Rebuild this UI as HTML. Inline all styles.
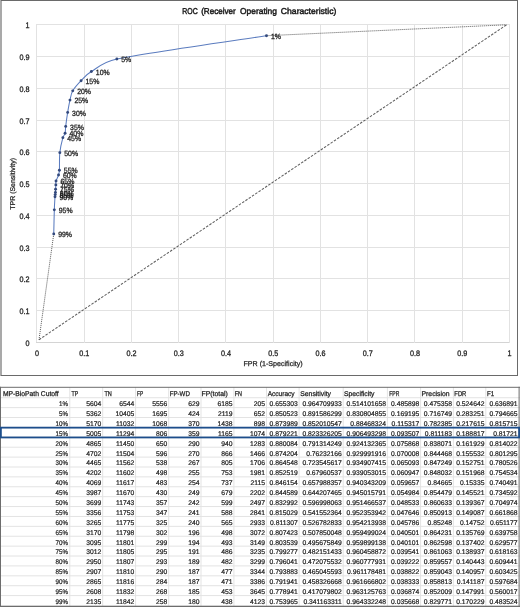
<!DOCTYPE html>
<html><head><meta charset="utf-8"><style>
html,body{margin:0;padding:0;background:#fff;width:520px;height:607px;overflow:hidden}
svg{display:block;font-family:"Liberation Sans",sans-serif;will-change:transform;text-rendering:geometricPrecision}
</style></head><body>
<svg width="520" height="607" viewBox="0 0 520 607">
<rect x="0" y="0" width="520" height="607" fill="#fff"/>
<line x1="36.5" y1="24.0" x2="36.5" y2="343.0" stroke="#e2e2e2" stroke-width="1"/>
<line x1="36.0" y1="342.5" x2="510.0" y2="342.5" stroke="#d4d4d4" stroke-width="1"/>
<line x1="84.5" y1="24.0" x2="84.5" y2="343.0" stroke="#e2e2e2" stroke-width="1"/>
<line x1="36.0" y1="310.5" x2="510.0" y2="310.5" stroke="#e2e2e2" stroke-width="1"/>
<line x1="131.5" y1="24.0" x2="131.5" y2="343.0" stroke="#e2e2e2" stroke-width="1"/>
<line x1="36.0" y1="278.5" x2="510.0" y2="278.5" stroke="#e2e2e2" stroke-width="1"/>
<line x1="178.5" y1="24.0" x2="178.5" y2="343.0" stroke="#e2e2e2" stroke-width="1"/>
<line x1="36.0" y1="247.5" x2="510.0" y2="247.5" stroke="#e2e2e2" stroke-width="1"/>
<line x1="225.5" y1="24.0" x2="225.5" y2="343.0" stroke="#e2e2e2" stroke-width="1"/>
<line x1="36.0" y1="215.5" x2="510.0" y2="215.5" stroke="#e2e2e2" stroke-width="1"/>
<line x1="273.5" y1="24.0" x2="273.5" y2="343.0" stroke="#e2e2e2" stroke-width="1"/>
<line x1="36.0" y1="183.5" x2="510.0" y2="183.5" stroke="#e2e2e2" stroke-width="1"/>
<line x1="320.5" y1="24.0" x2="320.5" y2="343.0" stroke="#e2e2e2" stroke-width="1"/>
<line x1="36.0" y1="151.5" x2="510.0" y2="151.5" stroke="#e2e2e2" stroke-width="1"/>
<line x1="367.5" y1="24.0" x2="367.5" y2="343.0" stroke="#e2e2e2" stroke-width="1"/>
<line x1="36.0" y1="120.5" x2="510.0" y2="120.5" stroke="#e2e2e2" stroke-width="1"/>
<line x1="414.5" y1="24.0" x2="414.5" y2="343.0" stroke="#e2e2e2" stroke-width="1"/>
<line x1="36.0" y1="88.5" x2="510.0" y2="88.5" stroke="#e2e2e2" stroke-width="1"/>
<line x1="462.5" y1="24.0" x2="462.5" y2="343.0" stroke="#e2e2e2" stroke-width="1"/>
<line x1="36.0" y1="56.5" x2="510.0" y2="56.5" stroke="#e2e2e2" stroke-width="1"/>
<line x1="509.5" y1="24.0" x2="509.5" y2="343.0" stroke="#e2e2e2" stroke-width="1"/>
<line x1="36.0" y1="24.5" x2="510.0" y2="24.5" stroke="#e2e2e2" stroke-width="1"/>
<line x1="39.0" y1="339.7" x2="506.6" y2="24.8" stroke="#606060" stroke-width="1.05" stroke-dasharray="2.55 1.4"/>
<line x1="53.75" y1="234.01" x2="39.0" y2="339.7" stroke="#505050" stroke-width="0.95" stroke-dasharray="1 1"/>
<line x1="266.49" y1="35.72" x2="506.6" y2="24.8" stroke="#505050" stroke-width="0.95" stroke-dasharray="1 1"/>
<path d="M266.49,35.72 C241.55,39.60 146.03,53.00 116.84,58.98 C102.93,61.82 97.35,67.94 91.39,71.56 C85.50,75.13 84.19,77.47 81.08,80.68 C77.98,83.90 74.60,87.63 72.75,90.86 C70.90,94.10 70.83,96.49 69.98,100.08 C69.13,103.67 68.37,108.03 67.66,112.41 C66.94,116.80 66.13,122.91 65.70,126.39 C65.28,129.81 65.56,131.38 65.09,133.26 C64.62,135.14 63.52,135.27 62.88,137.64 C62.00,140.87 60.41,147.21 59.83,152.65 C59.25,158.10 59.63,166.56 59.41,170.29 C59.27,172.67 59.10,173.20 58.53,174.98 C57.97,176.77 56.48,179.36 56.04,181.00 C55.59,182.65 55.92,183.51 55.85,184.88 C55.77,186.24 55.65,187.93 55.58,189.18 C55.51,190.43 55.49,191.47 55.43,192.38 C55.38,193.29 55.31,193.89 55.24,194.62 C55.17,195.34 55.08,195.68 55.01,196.75 C54.86,199.29 54.53,203.66 54.32,209.87 C54.11,216.08 53.85,229.99 53.75,234.01" fill="none" stroke="#5b7cbf" stroke-width="1.05" stroke-linejoin="round"/>
<circle cx="266.49" cy="35.72" r="1.45" fill="#33497c"/>
<circle cx="116.84" cy="58.98" r="1.45" fill="#33497c"/>
<circle cx="91.39" cy="71.56" r="1.45" fill="#33497c"/>
<circle cx="81.08" cy="80.68" r="1.45" fill="#33497c"/>
<circle cx="72.75" cy="90.86" r="1.45" fill="#33497c"/>
<circle cx="69.98" cy="100.08" r="1.45" fill="#33497c"/>
<circle cx="67.66" cy="112.41" r="1.45" fill="#33497c"/>
<circle cx="65.70" cy="126.39" r="1.45" fill="#33497c"/>
<circle cx="65.09" cy="133.26" r="1.45" fill="#33497c"/>
<circle cx="62.88" cy="137.64" r="1.45" fill="#33497c"/>
<circle cx="59.83" cy="152.65" r="1.45" fill="#33497c"/>
<circle cx="59.41" cy="170.29" r="1.45" fill="#33497c"/>
<circle cx="58.53" cy="174.98" r="1.45" fill="#33497c"/>
<circle cx="56.04" cy="181.00" r="1.45" fill="#33497c"/>
<circle cx="55.85" cy="184.88" r="1.45" fill="#33497c"/>
<circle cx="55.58" cy="189.18" r="1.45" fill="#33497c"/>
<circle cx="55.43" cy="192.38" r="1.45" fill="#33497c"/>
<circle cx="55.24" cy="194.62" r="1.45" fill="#33497c"/>
<circle cx="55.01" cy="196.75" r="1.45" fill="#33497c"/>
<circle cx="54.32" cy="209.87" r="1.45" fill="#33497c"/>
<circle cx="53.75" cy="234.01" r="1.45" fill="#33497c"/>
<text transform="translate(270.89,38.92) scale(0.91,1)" font-size="7.6" fill="#1f1f1f" text-anchor="start" stroke="#1f1f1f" stroke-width="0.3">1%</text>
<text transform="translate(121.24,62.18) scale(0.91,1)" font-size="7.6" fill="#1f1f1f" text-anchor="start" stroke="#1f1f1f" stroke-width="0.3">5%</text>
<text transform="translate(95.79,74.76) scale(0.91,1)" font-size="7.6" fill="#1f1f1f" text-anchor="start" stroke="#1f1f1f" stroke-width="0.3">10%</text>
<text transform="translate(85.48,83.88) scale(0.91,1)" font-size="7.6" fill="#1f1f1f" text-anchor="start" stroke="#1f1f1f" stroke-width="0.3">15%</text>
<text transform="translate(77.15,94.06) scale(0.91,1)" font-size="7.6" fill="#1f1f1f" text-anchor="start" stroke="#1f1f1f" stroke-width="0.3">20%</text>
<text transform="translate(74.38,103.28) scale(0.91,1)" font-size="7.6" fill="#1f1f1f" text-anchor="start" stroke="#1f1f1f" stroke-width="0.3">25%</text>
<text transform="translate(72.06,115.61) scale(0.91,1)" font-size="7.6" fill="#1f1f1f" text-anchor="start" stroke="#1f1f1f" stroke-width="0.3">30%</text>
<text transform="translate(70.10,129.59) scale(0.91,1)" font-size="7.6" fill="#1f1f1f" text-anchor="start" stroke="#1f1f1f" stroke-width="0.3">35%</text>
<text transform="translate(69.49,136.46) scale(0.91,1)" font-size="7.6" fill="#1f1f1f" text-anchor="start" stroke="#1f1f1f" stroke-width="0.3">40%</text>
<text transform="translate(67.28,140.84) scale(0.91,1)" font-size="7.6" fill="#1f1f1f" text-anchor="start" stroke="#1f1f1f" stroke-width="0.3">45%</text>
<text transform="translate(64.23,155.85) scale(0.91,1)" font-size="7.6" fill="#1f1f1f" text-anchor="start" stroke="#1f1f1f" stroke-width="0.3">50%</text>
<text transform="translate(63.81,173.49) scale(0.91,1)" font-size="7.6" fill="#1f1f1f" text-anchor="start" stroke="#1f1f1f" stroke-width="0.3">55%</text>
<text transform="translate(62.93,178.18) scale(0.91,1)" font-size="7.6" fill="#1f1f1f" text-anchor="start" stroke="#1f1f1f" stroke-width="0.3">60%</text>
<text transform="translate(60.44,184.20) scale(0.91,1)" font-size="7.6" fill="#1f1f1f" text-anchor="start" stroke="#1f1f1f" stroke-width="0.3">65%</text>
<text transform="translate(60.25,188.08) scale(0.91,1)" font-size="7.6" fill="#1f1f1f" text-anchor="start" stroke="#1f1f1f" stroke-width="0.3">70%</text>
<text transform="translate(59.98,192.38) scale(0.91,1)" font-size="7.6" fill="#1f1f1f" text-anchor="start" stroke="#1f1f1f" stroke-width="0.3">75%</text>
<text transform="translate(59.83,195.58) scale(0.91,1)" font-size="7.6" fill="#1f1f1f" text-anchor="start" stroke="#1f1f1f" stroke-width="0.3">80%</text>
<text transform="translate(59.64,197.82) scale(0.91,1)" font-size="7.6" fill="#1f1f1f" text-anchor="start" stroke="#1f1f1f" stroke-width="0.3">85%</text>
<text transform="translate(59.41,199.95) scale(0.91,1)" font-size="7.6" fill="#1f1f1f" text-anchor="start" stroke="#1f1f1f" stroke-width="0.3">90%</text>
<text transform="translate(58.72,213.07) scale(0.91,1)" font-size="7.6" fill="#1f1f1f" text-anchor="start" stroke="#1f1f1f" stroke-width="0.3">95%</text>
<text transform="translate(58.15,237.21) scale(0.91,1)" font-size="7.6" fill="#1f1f1f" text-anchor="start" stroke="#1f1f1f" stroke-width="0.3">99%</text>
<text transform="translate(29.50,345.60) scale(0.9,1)" font-size="8" fill="#1f1f1f" text-anchor="end" stroke="#1f1f1f" stroke-width="0.3">0</text>
<text transform="translate(36.90,355.70) scale(0.9,1)" font-size="8" fill="#1f1f1f" text-anchor="middle" stroke="#1f1f1f" stroke-width="0.3">0</text>
<text transform="translate(29.50,313.60) scale(0.9,1)" font-size="8" fill="#1f1f1f" text-anchor="end" stroke="#1f1f1f" stroke-width="0.3">0.1</text>
<text transform="translate(84.15,355.70) scale(0.9,1)" font-size="8" fill="#1f1f1f" text-anchor="middle" stroke="#1f1f1f" stroke-width="0.3">0.1</text>
<text transform="translate(29.50,281.60) scale(0.9,1)" font-size="8" fill="#1f1f1f" text-anchor="end" stroke="#1f1f1f" stroke-width="0.3">0.2</text>
<text transform="translate(131.40,355.70) scale(0.9,1)" font-size="8" fill="#1f1f1f" text-anchor="middle" stroke="#1f1f1f" stroke-width="0.3">0.2</text>
<text transform="translate(29.50,250.60) scale(0.9,1)" font-size="8" fill="#1f1f1f" text-anchor="end" stroke="#1f1f1f" stroke-width="0.3">0.3</text>
<text transform="translate(178.65,355.70) scale(0.9,1)" font-size="8" fill="#1f1f1f" text-anchor="middle" stroke="#1f1f1f" stroke-width="0.3">0.3</text>
<text transform="translate(29.50,218.60) scale(0.9,1)" font-size="8" fill="#1f1f1f" text-anchor="end" stroke="#1f1f1f" stroke-width="0.3">0.4</text>
<text transform="translate(225.90,355.70) scale(0.9,1)" font-size="8" fill="#1f1f1f" text-anchor="middle" stroke="#1f1f1f" stroke-width="0.3">0.4</text>
<text transform="translate(29.50,186.60) scale(0.9,1)" font-size="8" fill="#1f1f1f" text-anchor="end" stroke="#1f1f1f" stroke-width="0.3">0.5</text>
<text transform="translate(273.15,355.70) scale(0.9,1)" font-size="8" fill="#1f1f1f" text-anchor="middle" stroke="#1f1f1f" stroke-width="0.3">0.5</text>
<text transform="translate(29.50,154.60) scale(0.9,1)" font-size="8" fill="#1f1f1f" text-anchor="end" stroke="#1f1f1f" stroke-width="0.3">0.6</text>
<text transform="translate(320.40,355.70) scale(0.9,1)" font-size="8" fill="#1f1f1f" text-anchor="middle" stroke="#1f1f1f" stroke-width="0.3">0.6</text>
<text transform="translate(29.50,123.60) scale(0.9,1)" font-size="8" fill="#1f1f1f" text-anchor="end" stroke="#1f1f1f" stroke-width="0.3">0.7</text>
<text transform="translate(367.65,355.70) scale(0.9,1)" font-size="8" fill="#1f1f1f" text-anchor="middle" stroke="#1f1f1f" stroke-width="0.3">0.7</text>
<text transform="translate(29.50,91.60) scale(0.9,1)" font-size="8" fill="#1f1f1f" text-anchor="end" stroke="#1f1f1f" stroke-width="0.3">0.8</text>
<text transform="translate(414.90,355.70) scale(0.9,1)" font-size="8" fill="#1f1f1f" text-anchor="middle" stroke="#1f1f1f" stroke-width="0.3">0.8</text>
<text transform="translate(29.50,59.60) scale(0.9,1)" font-size="8" fill="#1f1f1f" text-anchor="end" stroke="#1f1f1f" stroke-width="0.3">0.9</text>
<text transform="translate(462.15,355.70) scale(0.9,1)" font-size="8" fill="#1f1f1f" text-anchor="middle" stroke="#1f1f1f" stroke-width="0.3">0.9</text>
<text transform="translate(29.50,27.60) scale(0.9,1)" font-size="8" fill="#1f1f1f" text-anchor="end" stroke="#1f1f1f" stroke-width="0.3">1</text>
<text transform="translate(509.40,355.70) scale(0.9,1)" font-size="8" fill="#1f1f1f" text-anchor="middle" stroke="#1f1f1f" stroke-width="0.3">1</text>
<text x="273.10" y="366.40" font-size="7.1" fill="#262626" text-anchor="middle" stroke="#262626" stroke-width="0.25">FPR (1-Specificity)</text>
<text transform="translate(14.7,183.8) rotate(-90)" font-size="6.95" fill="#262626" stroke="#262626" stroke-width="0.25" text-anchor="middle">TPR (Sensitivity)</text>
<text transform="translate(182.25,14.10) scale(0.815,1)" font-size="8.5" fill="#1a1a1a" text-anchor="start" stroke="#1a1a1a" stroke-width="0.45">ROC</text>
<text transform="translate(201.15,14.10) scale(0.949,1)" font-size="8.5" fill="#1a1a1a" text-anchor="start" stroke="#1a1a1a" stroke-width="0.45">(Receiver</text>
<text transform="translate(240.05,14.10) scale(0.988,1)" font-size="8.5" fill="#1a1a1a" text-anchor="start" stroke="#1a1a1a" stroke-width="0.45">Operating</text>
<text transform="translate(280.85,14.10) scale(1.013,1)" font-size="8.5" fill="#1a1a1a" text-anchor="start" stroke="#1a1a1a" stroke-width="0.45">Characteristic)</text>
<rect x="0" y="0" width="2" height="376" fill="#a9a9a9"/>
<rect x="1" y="0" width="517" height="1" fill="#6a6a6a"/>
<rect x="517" y="0" width="1" height="376" fill="#6a6a6a"/>
<rect x="1" y="375" width="517" height="1" fill="#6a6a6a"/>
<line x1="0" y1="397.74" x2="520" y2="397.74" stroke="#e3e3e3" stroke-width="1"/>
<line x1="0" y1="407.64" x2="520" y2="407.64" stroke="#e3e3e3" stroke-width="1"/>
<line x1="0" y1="417.53" x2="520" y2="417.53" stroke="#e3e3e3" stroke-width="1"/>
<line x1="0" y1="427.42" x2="520" y2="427.42" stroke="#e3e3e3" stroke-width="1"/>
<line x1="0" y1="437.32" x2="520" y2="437.32" stroke="#e3e3e3" stroke-width="1"/>
<line x1="0" y1="447.21" x2="520" y2="447.21" stroke="#e3e3e3" stroke-width="1"/>
<line x1="0" y1="457.10" x2="520" y2="457.10" stroke="#e3e3e3" stroke-width="1"/>
<line x1="0" y1="466.99" x2="520" y2="466.99" stroke="#e3e3e3" stroke-width="1"/>
<line x1="0" y1="476.89" x2="520" y2="476.89" stroke="#e3e3e3" stroke-width="1"/>
<line x1="0" y1="486.78" x2="520" y2="486.78" stroke="#e3e3e3" stroke-width="1"/>
<line x1="0" y1="496.67" x2="520" y2="496.67" stroke="#e3e3e3" stroke-width="1"/>
<line x1="0" y1="506.57" x2="520" y2="506.57" stroke="#e3e3e3" stroke-width="1"/>
<line x1="0" y1="516.46" x2="520" y2="516.46" stroke="#e3e3e3" stroke-width="1"/>
<line x1="0" y1="526.35" x2="520" y2="526.35" stroke="#e3e3e3" stroke-width="1"/>
<line x1="0" y1="536.25" x2="520" y2="536.25" stroke="#e3e3e3" stroke-width="1"/>
<line x1="0" y1="546.14" x2="520" y2="546.14" stroke="#e3e3e3" stroke-width="1"/>
<line x1="0" y1="556.03" x2="520" y2="556.03" stroke="#e3e3e3" stroke-width="1"/>
<line x1="0" y1="565.92" x2="520" y2="565.92" stroke="#e3e3e3" stroke-width="1"/>
<line x1="0" y1="575.82" x2="520" y2="575.82" stroke="#e3e3e3" stroke-width="1"/>
<line x1="0" y1="585.71" x2="520" y2="585.71" stroke="#e3e3e3" stroke-width="1"/>
<line x1="0" y1="595.60" x2="520" y2="595.60" stroke="#e3e3e3" stroke-width="1"/>
<line x1="69.80" y1="387" x2="69.80" y2="607" stroke="#e3e3e3" stroke-width="1"/>
<line x1="102.70" y1="387" x2="102.70" y2="607" stroke="#e3e3e3" stroke-width="1"/>
<line x1="135.60" y1="387" x2="135.60" y2="607" stroke="#e3e3e3" stroke-width="1"/>
<line x1="168.70" y1="387" x2="168.70" y2="607" stroke="#e3e3e3" stroke-width="1"/>
<line x1="201.00" y1="387" x2="201.00" y2="607" stroke="#e3e3e3" stroke-width="1"/>
<line x1="233.90" y1="387" x2="233.90" y2="607" stroke="#e3e3e3" stroke-width="1"/>
<line x1="266.50" y1="387" x2="266.50" y2="607" stroke="#e3e3e3" stroke-width="1"/>
<line x1="299.10" y1="387" x2="299.10" y2="607" stroke="#e3e3e3" stroke-width="1"/>
<line x1="343.20" y1="387" x2="343.20" y2="607" stroke="#e3e3e3" stroke-width="1"/>
<line x1="387.40" y1="387" x2="387.40" y2="607" stroke="#e3e3e3" stroke-width="1"/>
<line x1="420.60" y1="387" x2="420.60" y2="607" stroke="#e3e3e3" stroke-width="1"/>
<line x1="453.40" y1="387" x2="453.40" y2="607" stroke="#e3e3e3" stroke-width="1"/>
<line x1="485.80" y1="387" x2="485.80" y2="607" stroke="#e3e3e3" stroke-width="1"/>
<text transform="translate(2.95,396.04) scale(0.973,1)" font-size="6.95" fill="#1a1a1a" text-anchor="start" stroke="#1a1a1a" stroke-width="0.25">MP-BioPath Cutoff</text>
<text transform="translate(71.55,396.04) scale(0.755,1)" font-size="6.95" fill="#1a1a1a" text-anchor="start" stroke="#1a1a1a" stroke-width="0.25">TP</text>
<text transform="translate(104.45,396.04) scale(0.799,1)" font-size="6.95" fill="#1a1a1a" text-anchor="start" stroke="#1a1a1a" stroke-width="0.25">TN</text>
<text transform="translate(137.05,396.04) scale(0.698,1)" font-size="6.95" fill="#1a1a1a" text-anchor="start" stroke="#1a1a1a" stroke-width="0.25">FP</text>
<text transform="translate(169.75,396.04) scale(0.883,1)" font-size="6.95" fill="#1a1a1a" text-anchor="start" stroke="#1a1a1a" stroke-width="0.25">FP-WD</text>
<text transform="translate(201.45,396.04) scale(0.991,1)" font-size="6.95" fill="#1a1a1a" text-anchor="start" stroke="#1a1a1a" stroke-width="0.25">FP(total)</text>
<text transform="translate(234.65,396.04) scale(0.778,1)" font-size="6.95" fill="#1a1a1a" text-anchor="start" stroke="#1a1a1a" stroke-width="0.25">FN</text>
<text transform="translate(267.65,396.04) scale(0.945,1)" font-size="6.95" fill="#1a1a1a" text-anchor="start" stroke="#1a1a1a" stroke-width="0.25">Accuracy</text>
<text transform="translate(300.25,396.04) scale(0.984,1)" font-size="6.95" fill="#1a1a1a" text-anchor="start" stroke="#1a1a1a" stroke-width="0.25">Sensitivity</text>
<text transform="translate(343.95,396.04) scale(0.978,1)" font-size="6.95" fill="#1a1a1a" text-anchor="start" stroke="#1a1a1a" stroke-width="0.25">Specificity</text>
<text transform="translate(389.25,396.04) scale(0.727,1)" font-size="6.95" fill="#1a1a1a" text-anchor="start" stroke="#1a1a1a" stroke-width="0.25">FPR</text>
<text transform="translate(421.55,396.04) scale(0.983,1)" font-size="6.95" fill="#1a1a1a" text-anchor="start" stroke="#1a1a1a" stroke-width="0.25">Precision</text>
<text transform="translate(454.35,396.04) scale(0.84,1)" font-size="6.95" fill="#1a1a1a" text-anchor="start" stroke="#1a1a1a" stroke-width="0.25">FDR</text>
<text transform="translate(486.95,396.04) scale(0.875,1)" font-size="6.95" fill="#1a1a1a" text-anchor="start" stroke="#1a1a1a" stroke-width="0.25">F1</text>
<text transform="translate(68.00,406.04) scale(0.92,1)" font-size="6.75" fill="#1a1a1a" text-anchor="end" stroke="#1a1a1a" stroke-width="0.2">1%</text>
<text x="101.30" y="406.04" font-size="6.75" fill="#1a1a1a" text-anchor="end" stroke="#1a1a1a" stroke-width="0.2">5604</text>
<text x="134.20" y="406.04" font-size="6.75" fill="#1a1a1a" text-anchor="end" stroke="#1a1a1a" stroke-width="0.2">6544</text>
<text x="167.30" y="406.04" font-size="6.75" fill="#1a1a1a" text-anchor="end" stroke="#1a1a1a" stroke-width="0.2">5556</text>
<text x="199.60" y="406.04" font-size="6.75" fill="#1a1a1a" text-anchor="end" stroke="#1a1a1a" stroke-width="0.2">629</text>
<text x="232.50" y="406.04" font-size="6.75" fill="#1a1a1a" text-anchor="end" stroke="#1a1a1a" stroke-width="0.2">6185</text>
<text x="265.10" y="406.04" font-size="6.75" fill="#1a1a1a" text-anchor="end" stroke="#1a1a1a" stroke-width="0.2">205</text>
<text x="297.70" y="406.04" font-size="6.75" fill="#1a1a1a" text-anchor="end" stroke="#1a1a1a" stroke-width="0.2">0.655303</text>
<text x="341.80" y="406.04" font-size="6.75" fill="#1a1a1a" text-anchor="end" stroke="#1a1a1a" stroke-width="0.2">0.964709933</text>
<text x="386.00" y="406.04" font-size="6.75" fill="#1a1a1a" text-anchor="end" stroke="#1a1a1a" stroke-width="0.2">0.514101658</text>
<text x="419.20" y="406.04" font-size="6.75" fill="#1a1a1a" text-anchor="end" stroke="#1a1a1a" stroke-width="0.2">0.485898</text>
<text x="452.00" y="406.04" font-size="6.75" fill="#1a1a1a" text-anchor="end" stroke="#1a1a1a" stroke-width="0.2">0.475358</text>
<text x="484.40" y="406.04" font-size="6.75" fill="#1a1a1a" text-anchor="end" stroke="#1a1a1a" stroke-width="0.2">0.524642</text>
<text x="517.60" y="406.04" font-size="6.75" fill="#1a1a1a" text-anchor="end" stroke="#1a1a1a" stroke-width="0.2">0.636891</text>
<text transform="translate(68.00,415.93) scale(0.92,1)" font-size="6.75" fill="#1a1a1a" text-anchor="end" stroke="#1a1a1a" stroke-width="0.2">5%</text>
<text x="101.30" y="415.93" font-size="6.75" fill="#1a1a1a" text-anchor="end" stroke="#1a1a1a" stroke-width="0.2">5362</text>
<text x="134.20" y="415.93" font-size="6.75" fill="#1a1a1a" text-anchor="end" stroke="#1a1a1a" stroke-width="0.2">10405</text>
<text x="167.30" y="415.93" font-size="6.75" fill="#1a1a1a" text-anchor="end" stroke="#1a1a1a" stroke-width="0.2">1695</text>
<text x="199.60" y="415.93" font-size="6.75" fill="#1a1a1a" text-anchor="end" stroke="#1a1a1a" stroke-width="0.2">424</text>
<text x="232.50" y="415.93" font-size="6.75" fill="#1a1a1a" text-anchor="end" stroke="#1a1a1a" stroke-width="0.2">2119</text>
<text x="265.10" y="415.93" font-size="6.75" fill="#1a1a1a" text-anchor="end" stroke="#1a1a1a" stroke-width="0.2">652</text>
<text x="297.70" y="415.93" font-size="6.75" fill="#1a1a1a" text-anchor="end" stroke="#1a1a1a" stroke-width="0.2">0.850523</text>
<text x="341.80" y="415.93" font-size="6.75" fill="#1a1a1a" text-anchor="end" stroke="#1a1a1a" stroke-width="0.2">0.891586299</text>
<text x="386.00" y="415.93" font-size="6.75" fill="#1a1a1a" text-anchor="end" stroke="#1a1a1a" stroke-width="0.2">0.830804855</text>
<text x="419.20" y="415.93" font-size="6.75" fill="#1a1a1a" text-anchor="end" stroke="#1a1a1a" stroke-width="0.2">0.169195</text>
<text x="452.00" y="415.93" font-size="6.75" fill="#1a1a1a" text-anchor="end" stroke="#1a1a1a" stroke-width="0.2">0.716749</text>
<text x="484.40" y="415.93" font-size="6.75" fill="#1a1a1a" text-anchor="end" stroke="#1a1a1a" stroke-width="0.2">0.283251</text>
<text x="517.60" y="415.93" font-size="6.75" fill="#1a1a1a" text-anchor="end" stroke="#1a1a1a" stroke-width="0.2">0.794665</text>
<text transform="translate(68.00,425.82) scale(0.92,1)" font-size="6.75" fill="#1a1a1a" text-anchor="end" stroke="#1a1a1a" stroke-width="0.2">10%</text>
<text x="101.30" y="425.82" font-size="6.75" fill="#1a1a1a" text-anchor="end" stroke="#1a1a1a" stroke-width="0.2">5170</text>
<text x="134.20" y="425.82" font-size="6.75" fill="#1a1a1a" text-anchor="end" stroke="#1a1a1a" stroke-width="0.2">11032</text>
<text x="167.30" y="425.82" font-size="6.75" fill="#1a1a1a" text-anchor="end" stroke="#1a1a1a" stroke-width="0.2">1068</text>
<text x="199.60" y="425.82" font-size="6.75" fill="#1a1a1a" text-anchor="end" stroke="#1a1a1a" stroke-width="0.2">370</text>
<text x="232.50" y="425.82" font-size="6.75" fill="#1a1a1a" text-anchor="end" stroke="#1a1a1a" stroke-width="0.2">1438</text>
<text x="265.10" y="425.82" font-size="6.75" fill="#1a1a1a" text-anchor="end" stroke="#1a1a1a" stroke-width="0.2">898</text>
<text x="297.70" y="425.82" font-size="6.75" fill="#1a1a1a" text-anchor="end" stroke="#1a1a1a" stroke-width="0.2">0.873989</text>
<text x="341.80" y="425.82" font-size="6.75" fill="#1a1a1a" text-anchor="end" stroke="#1a1a1a" stroke-width="0.2">0.852010547</text>
<text x="386.00" y="425.82" font-size="6.75" fill="#1a1a1a" text-anchor="end" stroke="#1a1a1a" stroke-width="0.2">0.88468324</text>
<text x="419.20" y="425.82" font-size="6.75" fill="#1a1a1a" text-anchor="end" stroke="#1a1a1a" stroke-width="0.2">0.115317</text>
<text x="452.00" y="425.82" font-size="6.75" fill="#1a1a1a" text-anchor="end" stroke="#1a1a1a" stroke-width="0.2">0.782385</text>
<text x="484.40" y="425.82" font-size="6.75" fill="#1a1a1a" text-anchor="end" stroke="#1a1a1a" stroke-width="0.2">0.217615</text>
<text x="517.60" y="425.82" font-size="6.75" fill="#1a1a1a" text-anchor="end" stroke="#1a1a1a" stroke-width="0.2">0.815715</text>
<text transform="translate(68.00,435.72) scale(0.92,1)" font-size="6.75" fill="#1a1a1a" text-anchor="end" stroke="#1a1a1a" stroke-width="0.2">15%</text>
<text x="101.30" y="435.72" font-size="6.75" fill="#1a1a1a" text-anchor="end" stroke="#1a1a1a" stroke-width="0.2">5005</text>
<text x="134.20" y="435.72" font-size="6.75" fill="#1a1a1a" text-anchor="end" stroke="#1a1a1a" stroke-width="0.2">11294</text>
<text x="167.30" y="435.72" font-size="6.75" fill="#1a1a1a" text-anchor="end" stroke="#1a1a1a" stroke-width="0.2">806</text>
<text x="199.60" y="435.72" font-size="6.75" fill="#1a1a1a" text-anchor="end" stroke="#1a1a1a" stroke-width="0.2">359</text>
<text x="232.50" y="435.72" font-size="6.75" fill="#1a1a1a" text-anchor="end" stroke="#1a1a1a" stroke-width="0.2">1165</text>
<text x="265.10" y="435.72" font-size="6.75" fill="#1a1a1a" text-anchor="end" stroke="#1a1a1a" stroke-width="0.2">1074</text>
<text x="297.70" y="435.72" font-size="6.75" fill="#1a1a1a" text-anchor="end" stroke="#1a1a1a" stroke-width="0.2">0.879221</text>
<text x="341.80" y="435.72" font-size="6.75" fill="#1a1a1a" text-anchor="end" stroke="#1a1a1a" stroke-width="0.2">0.823326205</text>
<text x="386.00" y="435.72" font-size="6.75" fill="#1a1a1a" text-anchor="end" stroke="#1a1a1a" stroke-width="0.2">0.906493298</text>
<text x="419.20" y="435.72" font-size="6.75" fill="#1a1a1a" text-anchor="end" stroke="#1a1a1a" stroke-width="0.2">0.093507</text>
<text x="452.00" y="435.72" font-size="6.75" fill="#1a1a1a" text-anchor="end" stroke="#1a1a1a" stroke-width="0.2">0.811183</text>
<text x="484.40" y="435.72" font-size="6.75" fill="#1a1a1a" text-anchor="end" stroke="#1a1a1a" stroke-width="0.2">0.188817</text>
<text x="517.60" y="435.72" font-size="6.75" fill="#1a1a1a" text-anchor="end" stroke="#1a1a1a" stroke-width="0.2">0.81721</text>
<text transform="translate(68.00,445.61) scale(0.92,1)" font-size="6.75" fill="#1a1a1a" text-anchor="end" stroke="#1a1a1a" stroke-width="0.2">20%</text>
<text x="101.30" y="445.61" font-size="6.75" fill="#1a1a1a" text-anchor="end" stroke="#1a1a1a" stroke-width="0.2">4865</text>
<text x="134.20" y="445.61" font-size="6.75" fill="#1a1a1a" text-anchor="end" stroke="#1a1a1a" stroke-width="0.2">11450</text>
<text x="167.30" y="445.61" font-size="6.75" fill="#1a1a1a" text-anchor="end" stroke="#1a1a1a" stroke-width="0.2">650</text>
<text x="199.60" y="445.61" font-size="6.75" fill="#1a1a1a" text-anchor="end" stroke="#1a1a1a" stroke-width="0.2">290</text>
<text x="232.50" y="445.61" font-size="6.75" fill="#1a1a1a" text-anchor="end" stroke="#1a1a1a" stroke-width="0.2">940</text>
<text x="265.10" y="445.61" font-size="6.75" fill="#1a1a1a" text-anchor="end" stroke="#1a1a1a" stroke-width="0.2">1283</text>
<text x="297.70" y="445.61" font-size="6.75" fill="#1a1a1a" text-anchor="end" stroke="#1a1a1a" stroke-width="0.2">0.880084</text>
<text x="341.80" y="445.61" font-size="6.75" fill="#1a1a1a" text-anchor="end" stroke="#1a1a1a" stroke-width="0.2">0.791314249</text>
<text x="386.00" y="445.61" font-size="6.75" fill="#1a1a1a" text-anchor="end" stroke="#1a1a1a" stroke-width="0.2">0.924132365</text>
<text x="419.20" y="445.61" font-size="6.75" fill="#1a1a1a" text-anchor="end" stroke="#1a1a1a" stroke-width="0.2">0.075868</text>
<text x="452.00" y="445.61" font-size="6.75" fill="#1a1a1a" text-anchor="end" stroke="#1a1a1a" stroke-width="0.2">0.838071</text>
<text x="484.40" y="445.61" font-size="6.75" fill="#1a1a1a" text-anchor="end" stroke="#1a1a1a" stroke-width="0.2">0.161929</text>
<text x="517.60" y="445.61" font-size="6.75" fill="#1a1a1a" text-anchor="end" stroke="#1a1a1a" stroke-width="0.2">0.814022</text>
<text transform="translate(68.00,455.50) scale(0.92,1)" font-size="6.75" fill="#1a1a1a" text-anchor="end" stroke="#1a1a1a" stroke-width="0.2">25%</text>
<text x="101.30" y="455.50" font-size="6.75" fill="#1a1a1a" text-anchor="end" stroke="#1a1a1a" stroke-width="0.2">4702</text>
<text x="134.20" y="455.50" font-size="6.75" fill="#1a1a1a" text-anchor="end" stroke="#1a1a1a" stroke-width="0.2">11504</text>
<text x="167.30" y="455.50" font-size="6.75" fill="#1a1a1a" text-anchor="end" stroke="#1a1a1a" stroke-width="0.2">596</text>
<text x="199.60" y="455.50" font-size="6.75" fill="#1a1a1a" text-anchor="end" stroke="#1a1a1a" stroke-width="0.2">270</text>
<text x="232.50" y="455.50" font-size="6.75" fill="#1a1a1a" text-anchor="end" stroke="#1a1a1a" stroke-width="0.2">866</text>
<text x="265.10" y="455.50" font-size="6.75" fill="#1a1a1a" text-anchor="end" stroke="#1a1a1a" stroke-width="0.2">1466</text>
<text x="297.70" y="455.50" font-size="6.75" fill="#1a1a1a" text-anchor="end" stroke="#1a1a1a" stroke-width="0.2">0.874204</text>
<text x="341.80" y="455.50" font-size="6.75" fill="#1a1a1a" text-anchor="end" stroke="#1a1a1a" stroke-width="0.2">0.76232166</text>
<text x="386.00" y="455.50" font-size="6.75" fill="#1a1a1a" text-anchor="end" stroke="#1a1a1a" stroke-width="0.2">0.929991916</text>
<text x="419.20" y="455.50" font-size="6.75" fill="#1a1a1a" text-anchor="end" stroke="#1a1a1a" stroke-width="0.2">0.070008</text>
<text x="452.00" y="455.50" font-size="6.75" fill="#1a1a1a" text-anchor="end" stroke="#1a1a1a" stroke-width="0.2">0.844468</text>
<text x="484.40" y="455.50" font-size="6.75" fill="#1a1a1a" text-anchor="end" stroke="#1a1a1a" stroke-width="0.2">0.155532</text>
<text x="517.60" y="455.50" font-size="6.75" fill="#1a1a1a" text-anchor="end" stroke="#1a1a1a" stroke-width="0.2">0.801295</text>
<text transform="translate(68.00,465.39) scale(0.92,1)" font-size="6.75" fill="#1a1a1a" text-anchor="end" stroke="#1a1a1a" stroke-width="0.2">30%</text>
<text x="101.30" y="465.39" font-size="6.75" fill="#1a1a1a" text-anchor="end" stroke="#1a1a1a" stroke-width="0.2">4465</text>
<text x="134.20" y="465.39" font-size="6.75" fill="#1a1a1a" text-anchor="end" stroke="#1a1a1a" stroke-width="0.2">11562</text>
<text x="167.30" y="465.39" font-size="6.75" fill="#1a1a1a" text-anchor="end" stroke="#1a1a1a" stroke-width="0.2">538</text>
<text x="199.60" y="465.39" font-size="6.75" fill="#1a1a1a" text-anchor="end" stroke="#1a1a1a" stroke-width="0.2">267</text>
<text x="232.50" y="465.39" font-size="6.75" fill="#1a1a1a" text-anchor="end" stroke="#1a1a1a" stroke-width="0.2">805</text>
<text x="265.10" y="465.39" font-size="6.75" fill="#1a1a1a" text-anchor="end" stroke="#1a1a1a" stroke-width="0.2">1706</text>
<text x="297.70" y="465.39" font-size="6.75" fill="#1a1a1a" text-anchor="end" stroke="#1a1a1a" stroke-width="0.2">0.864548</text>
<text x="341.80" y="465.39" font-size="6.75" fill="#1a1a1a" text-anchor="end" stroke="#1a1a1a" stroke-width="0.2">0.723545617</text>
<text x="386.00" y="465.39" font-size="6.75" fill="#1a1a1a" text-anchor="end" stroke="#1a1a1a" stroke-width="0.2">0.934907415</text>
<text x="419.20" y="465.39" font-size="6.75" fill="#1a1a1a" text-anchor="end" stroke="#1a1a1a" stroke-width="0.2">0.065093</text>
<text x="452.00" y="465.39" font-size="6.75" fill="#1a1a1a" text-anchor="end" stroke="#1a1a1a" stroke-width="0.2">0.847249</text>
<text x="484.40" y="465.39" font-size="6.75" fill="#1a1a1a" text-anchor="end" stroke="#1a1a1a" stroke-width="0.2">0.152751</text>
<text x="517.60" y="465.39" font-size="6.75" fill="#1a1a1a" text-anchor="end" stroke="#1a1a1a" stroke-width="0.2">0.780526</text>
<text transform="translate(68.00,475.29) scale(0.92,1)" font-size="6.75" fill="#1a1a1a" text-anchor="end" stroke="#1a1a1a" stroke-width="0.2">35%</text>
<text x="101.30" y="475.29" font-size="6.75" fill="#1a1a1a" text-anchor="end" stroke="#1a1a1a" stroke-width="0.2">4202</text>
<text x="134.20" y="475.29" font-size="6.75" fill="#1a1a1a" text-anchor="end" stroke="#1a1a1a" stroke-width="0.2">11602</text>
<text x="167.30" y="475.29" font-size="6.75" fill="#1a1a1a" text-anchor="end" stroke="#1a1a1a" stroke-width="0.2">498</text>
<text x="199.60" y="475.29" font-size="6.75" fill="#1a1a1a" text-anchor="end" stroke="#1a1a1a" stroke-width="0.2">255</text>
<text x="232.50" y="475.29" font-size="6.75" fill="#1a1a1a" text-anchor="end" stroke="#1a1a1a" stroke-width="0.2">753</text>
<text x="265.10" y="475.29" font-size="6.75" fill="#1a1a1a" text-anchor="end" stroke="#1a1a1a" stroke-width="0.2">1981</text>
<text x="297.70" y="475.29" font-size="6.75" fill="#1a1a1a" text-anchor="end" stroke="#1a1a1a" stroke-width="0.2">0.852519</text>
<text x="341.80" y="475.29" font-size="6.75" fill="#1a1a1a" text-anchor="end" stroke="#1a1a1a" stroke-width="0.2">0.67960537</text>
<text x="386.00" y="475.29" font-size="6.75" fill="#1a1a1a" text-anchor="end" stroke="#1a1a1a" stroke-width="0.2">0.939053015</text>
<text x="419.20" y="475.29" font-size="6.75" fill="#1a1a1a" text-anchor="end" stroke="#1a1a1a" stroke-width="0.2">0.060947</text>
<text x="452.00" y="475.29" font-size="6.75" fill="#1a1a1a" text-anchor="end" stroke="#1a1a1a" stroke-width="0.2">0.848032</text>
<text x="484.40" y="475.29" font-size="6.75" fill="#1a1a1a" text-anchor="end" stroke="#1a1a1a" stroke-width="0.2">0.151968</text>
<text x="517.60" y="475.29" font-size="6.75" fill="#1a1a1a" text-anchor="end" stroke="#1a1a1a" stroke-width="0.2">0.754534</text>
<text transform="translate(68.00,485.18) scale(0.92,1)" font-size="6.75" fill="#1a1a1a" text-anchor="end" stroke="#1a1a1a" stroke-width="0.2">40%</text>
<text x="101.30" y="485.18" font-size="6.75" fill="#1a1a1a" text-anchor="end" stroke="#1a1a1a" stroke-width="0.2">4069</text>
<text x="134.20" y="485.18" font-size="6.75" fill="#1a1a1a" text-anchor="end" stroke="#1a1a1a" stroke-width="0.2">11617</text>
<text x="167.30" y="485.18" font-size="6.75" fill="#1a1a1a" text-anchor="end" stroke="#1a1a1a" stroke-width="0.2">483</text>
<text x="199.60" y="485.18" font-size="6.75" fill="#1a1a1a" text-anchor="end" stroke="#1a1a1a" stroke-width="0.2">254</text>
<text x="232.50" y="485.18" font-size="6.75" fill="#1a1a1a" text-anchor="end" stroke="#1a1a1a" stroke-width="0.2">737</text>
<text x="265.10" y="485.18" font-size="6.75" fill="#1a1a1a" text-anchor="end" stroke="#1a1a1a" stroke-width="0.2">2115</text>
<text x="297.70" y="485.18" font-size="6.75" fill="#1a1a1a" text-anchor="end" stroke="#1a1a1a" stroke-width="0.2">0.846154</text>
<text x="341.80" y="485.18" font-size="6.75" fill="#1a1a1a" text-anchor="end" stroke="#1a1a1a" stroke-width="0.2">0.657988357</text>
<text x="386.00" y="485.18" font-size="6.75" fill="#1a1a1a" text-anchor="end" stroke="#1a1a1a" stroke-width="0.2">0.940343209</text>
<text x="419.20" y="485.18" font-size="6.75" fill="#1a1a1a" text-anchor="end" stroke="#1a1a1a" stroke-width="0.2">0.059657</text>
<text x="452.00" y="485.18" font-size="6.75" fill="#1a1a1a" text-anchor="end" stroke="#1a1a1a" stroke-width="0.2">0.84665</text>
<text x="484.40" y="485.18" font-size="6.75" fill="#1a1a1a" text-anchor="end" stroke="#1a1a1a" stroke-width="0.2">0.15335</text>
<text x="517.60" y="485.18" font-size="6.75" fill="#1a1a1a" text-anchor="end" stroke="#1a1a1a" stroke-width="0.2">0.740491</text>
<text transform="translate(68.00,495.07) scale(0.92,1)" font-size="6.75" fill="#1a1a1a" text-anchor="end" stroke="#1a1a1a" stroke-width="0.2">45%</text>
<text x="101.30" y="495.07" font-size="6.75" fill="#1a1a1a" text-anchor="end" stroke="#1a1a1a" stroke-width="0.2">3987</text>
<text x="134.20" y="495.07" font-size="6.75" fill="#1a1a1a" text-anchor="end" stroke="#1a1a1a" stroke-width="0.2">11670</text>
<text x="167.30" y="495.07" font-size="6.75" fill="#1a1a1a" text-anchor="end" stroke="#1a1a1a" stroke-width="0.2">430</text>
<text x="199.60" y="495.07" font-size="6.75" fill="#1a1a1a" text-anchor="end" stroke="#1a1a1a" stroke-width="0.2">249</text>
<text x="232.50" y="495.07" font-size="6.75" fill="#1a1a1a" text-anchor="end" stroke="#1a1a1a" stroke-width="0.2">679</text>
<text x="265.10" y="495.07" font-size="6.75" fill="#1a1a1a" text-anchor="end" stroke="#1a1a1a" stroke-width="0.2">2202</text>
<text x="297.70" y="495.07" font-size="6.75" fill="#1a1a1a" text-anchor="end" stroke="#1a1a1a" stroke-width="0.2">0.844589</text>
<text x="341.80" y="495.07" font-size="6.75" fill="#1a1a1a" text-anchor="end" stroke="#1a1a1a" stroke-width="0.2">0.644207465</text>
<text x="386.00" y="495.07" font-size="6.75" fill="#1a1a1a" text-anchor="end" stroke="#1a1a1a" stroke-width="0.2">0.945015791</text>
<text x="419.20" y="495.07" font-size="6.75" fill="#1a1a1a" text-anchor="end" stroke="#1a1a1a" stroke-width="0.2">0.054984</text>
<text x="452.00" y="495.07" font-size="6.75" fill="#1a1a1a" text-anchor="end" stroke="#1a1a1a" stroke-width="0.2">0.854479</text>
<text x="484.40" y="495.07" font-size="6.75" fill="#1a1a1a" text-anchor="end" stroke="#1a1a1a" stroke-width="0.2">0.145521</text>
<text x="517.60" y="495.07" font-size="6.75" fill="#1a1a1a" text-anchor="end" stroke="#1a1a1a" stroke-width="0.2">0.734592</text>
<text transform="translate(68.00,504.97) scale(0.92,1)" font-size="6.75" fill="#1a1a1a" text-anchor="end" stroke="#1a1a1a" stroke-width="0.2">50%</text>
<text x="101.30" y="504.97" font-size="6.75" fill="#1a1a1a" text-anchor="end" stroke="#1a1a1a" stroke-width="0.2">3699</text>
<text x="134.20" y="504.97" font-size="6.75" fill="#1a1a1a" text-anchor="end" stroke="#1a1a1a" stroke-width="0.2">11743</text>
<text x="167.30" y="504.97" font-size="6.75" fill="#1a1a1a" text-anchor="end" stroke="#1a1a1a" stroke-width="0.2">357</text>
<text x="199.60" y="504.97" font-size="6.75" fill="#1a1a1a" text-anchor="end" stroke="#1a1a1a" stroke-width="0.2">242</text>
<text x="232.50" y="504.97" font-size="6.75" fill="#1a1a1a" text-anchor="end" stroke="#1a1a1a" stroke-width="0.2">599</text>
<text x="265.10" y="504.97" font-size="6.75" fill="#1a1a1a" text-anchor="end" stroke="#1a1a1a" stroke-width="0.2">2497</text>
<text x="297.70" y="504.97" font-size="6.75" fill="#1a1a1a" text-anchor="end" stroke="#1a1a1a" stroke-width="0.2">0.832992</text>
<text x="341.80" y="504.97" font-size="6.75" fill="#1a1a1a" text-anchor="end" stroke="#1a1a1a" stroke-width="0.2">0.596998063</text>
<text x="386.00" y="504.97" font-size="6.75" fill="#1a1a1a" text-anchor="end" stroke="#1a1a1a" stroke-width="0.2">0.951466537</text>
<text x="419.20" y="504.97" font-size="6.75" fill="#1a1a1a" text-anchor="end" stroke="#1a1a1a" stroke-width="0.2">0.048533</text>
<text x="452.00" y="504.97" font-size="6.75" fill="#1a1a1a" text-anchor="end" stroke="#1a1a1a" stroke-width="0.2">0.860633</text>
<text x="484.40" y="504.97" font-size="6.75" fill="#1a1a1a" text-anchor="end" stroke="#1a1a1a" stroke-width="0.2">0.139367</text>
<text x="517.60" y="504.97" font-size="6.75" fill="#1a1a1a" text-anchor="end" stroke="#1a1a1a" stroke-width="0.2">0.704974</text>
<text transform="translate(68.00,514.86) scale(0.92,1)" font-size="6.75" fill="#1a1a1a" text-anchor="end" stroke="#1a1a1a" stroke-width="0.2">55%</text>
<text x="101.30" y="514.86" font-size="6.75" fill="#1a1a1a" text-anchor="end" stroke="#1a1a1a" stroke-width="0.2">3356</text>
<text x="134.20" y="514.86" font-size="6.75" fill="#1a1a1a" text-anchor="end" stroke="#1a1a1a" stroke-width="0.2">11753</text>
<text x="167.30" y="514.86" font-size="6.75" fill="#1a1a1a" text-anchor="end" stroke="#1a1a1a" stroke-width="0.2">347</text>
<text x="199.60" y="514.86" font-size="6.75" fill="#1a1a1a" text-anchor="end" stroke="#1a1a1a" stroke-width="0.2">241</text>
<text x="232.50" y="514.86" font-size="6.75" fill="#1a1a1a" text-anchor="end" stroke="#1a1a1a" stroke-width="0.2">588</text>
<text x="265.10" y="514.86" font-size="6.75" fill="#1a1a1a" text-anchor="end" stroke="#1a1a1a" stroke-width="0.2">2841</text>
<text x="297.70" y="514.86" font-size="6.75" fill="#1a1a1a" text-anchor="end" stroke="#1a1a1a" stroke-width="0.2">0.815029</text>
<text x="341.80" y="514.86" font-size="6.75" fill="#1a1a1a" text-anchor="end" stroke="#1a1a1a" stroke-width="0.2">0.541552364</text>
<text x="386.00" y="514.86" font-size="6.75" fill="#1a1a1a" text-anchor="end" stroke="#1a1a1a" stroke-width="0.2">0.952353942</text>
<text x="419.20" y="514.86" font-size="6.75" fill="#1a1a1a" text-anchor="end" stroke="#1a1a1a" stroke-width="0.2">0.047646</text>
<text x="452.00" y="514.86" font-size="6.75" fill="#1a1a1a" text-anchor="end" stroke="#1a1a1a" stroke-width="0.2">0.850913</text>
<text x="484.40" y="514.86" font-size="6.75" fill="#1a1a1a" text-anchor="end" stroke="#1a1a1a" stroke-width="0.2">0.149087</text>
<text x="517.60" y="514.86" font-size="6.75" fill="#1a1a1a" text-anchor="end" stroke="#1a1a1a" stroke-width="0.2">0.661868</text>
<text transform="translate(68.00,524.75) scale(0.92,1)" font-size="6.75" fill="#1a1a1a" text-anchor="end" stroke="#1a1a1a" stroke-width="0.2">60%</text>
<text x="101.30" y="524.75" font-size="6.75" fill="#1a1a1a" text-anchor="end" stroke="#1a1a1a" stroke-width="0.2">3265</text>
<text x="134.20" y="524.75" font-size="6.75" fill="#1a1a1a" text-anchor="end" stroke="#1a1a1a" stroke-width="0.2">11775</text>
<text x="167.30" y="524.75" font-size="6.75" fill="#1a1a1a" text-anchor="end" stroke="#1a1a1a" stroke-width="0.2">325</text>
<text x="199.60" y="524.75" font-size="6.75" fill="#1a1a1a" text-anchor="end" stroke="#1a1a1a" stroke-width="0.2">240</text>
<text x="232.50" y="524.75" font-size="6.75" fill="#1a1a1a" text-anchor="end" stroke="#1a1a1a" stroke-width="0.2">565</text>
<text x="265.10" y="524.75" font-size="6.75" fill="#1a1a1a" text-anchor="end" stroke="#1a1a1a" stroke-width="0.2">2933</text>
<text x="297.70" y="524.75" font-size="6.75" fill="#1a1a1a" text-anchor="end" stroke="#1a1a1a" stroke-width="0.2">0.811307</text>
<text x="341.80" y="524.75" font-size="6.75" fill="#1a1a1a" text-anchor="end" stroke="#1a1a1a" stroke-width="0.2">0.526782833</text>
<text x="386.00" y="524.75" font-size="6.75" fill="#1a1a1a" text-anchor="end" stroke="#1a1a1a" stroke-width="0.2">0.954213938</text>
<text x="419.20" y="524.75" font-size="6.75" fill="#1a1a1a" text-anchor="end" stroke="#1a1a1a" stroke-width="0.2">0.045786</text>
<text x="452.00" y="524.75" font-size="6.75" fill="#1a1a1a" text-anchor="end" stroke="#1a1a1a" stroke-width="0.2">0.85248</text>
<text x="484.40" y="524.75" font-size="6.75" fill="#1a1a1a" text-anchor="end" stroke="#1a1a1a" stroke-width="0.2">0.14752</text>
<text x="517.60" y="524.75" font-size="6.75" fill="#1a1a1a" text-anchor="end" stroke="#1a1a1a" stroke-width="0.2">0.651177</text>
<text transform="translate(68.00,534.64) scale(0.92,1)" font-size="6.75" fill="#1a1a1a" text-anchor="end" stroke="#1a1a1a" stroke-width="0.2">65%</text>
<text x="101.30" y="534.64" font-size="6.75" fill="#1a1a1a" text-anchor="end" stroke="#1a1a1a" stroke-width="0.2">3170</text>
<text x="134.20" y="534.64" font-size="6.75" fill="#1a1a1a" text-anchor="end" stroke="#1a1a1a" stroke-width="0.2">11798</text>
<text x="167.30" y="534.64" font-size="6.75" fill="#1a1a1a" text-anchor="end" stroke="#1a1a1a" stroke-width="0.2">302</text>
<text x="199.60" y="534.64" font-size="6.75" fill="#1a1a1a" text-anchor="end" stroke="#1a1a1a" stroke-width="0.2">196</text>
<text x="232.50" y="534.64" font-size="6.75" fill="#1a1a1a" text-anchor="end" stroke="#1a1a1a" stroke-width="0.2">498</text>
<text x="265.10" y="534.64" font-size="6.75" fill="#1a1a1a" text-anchor="end" stroke="#1a1a1a" stroke-width="0.2">3072</text>
<text x="297.70" y="534.64" font-size="6.75" fill="#1a1a1a" text-anchor="end" stroke="#1a1a1a" stroke-width="0.2">0.807423</text>
<text x="341.80" y="534.64" font-size="6.75" fill="#1a1a1a" text-anchor="end" stroke="#1a1a1a" stroke-width="0.2">0.507850048</text>
<text x="386.00" y="534.64" font-size="6.75" fill="#1a1a1a" text-anchor="end" stroke="#1a1a1a" stroke-width="0.2">0.959499024</text>
<text x="419.20" y="534.64" font-size="6.75" fill="#1a1a1a" text-anchor="end" stroke="#1a1a1a" stroke-width="0.2">0.040501</text>
<text x="452.00" y="534.64" font-size="6.75" fill="#1a1a1a" text-anchor="end" stroke="#1a1a1a" stroke-width="0.2">0.864231</text>
<text x="484.40" y="534.64" font-size="6.75" fill="#1a1a1a" text-anchor="end" stroke="#1a1a1a" stroke-width="0.2">0.135769</text>
<text x="517.60" y="534.64" font-size="6.75" fill="#1a1a1a" text-anchor="end" stroke="#1a1a1a" stroke-width="0.2">0.639758</text>
<text transform="translate(68.00,544.54) scale(0.92,1)" font-size="6.75" fill="#1a1a1a" text-anchor="end" stroke="#1a1a1a" stroke-width="0.2">70%</text>
<text x="101.30" y="544.54" font-size="6.75" fill="#1a1a1a" text-anchor="end" stroke="#1a1a1a" stroke-width="0.2">3095</text>
<text x="134.20" y="544.54" font-size="6.75" fill="#1a1a1a" text-anchor="end" stroke="#1a1a1a" stroke-width="0.2">11801</text>
<text x="167.30" y="544.54" font-size="6.75" fill="#1a1a1a" text-anchor="end" stroke="#1a1a1a" stroke-width="0.2">299</text>
<text x="199.60" y="544.54" font-size="6.75" fill="#1a1a1a" text-anchor="end" stroke="#1a1a1a" stroke-width="0.2">194</text>
<text x="232.50" y="544.54" font-size="6.75" fill="#1a1a1a" text-anchor="end" stroke="#1a1a1a" stroke-width="0.2">493</text>
<text x="265.10" y="544.54" font-size="6.75" fill="#1a1a1a" text-anchor="end" stroke="#1a1a1a" stroke-width="0.2">3149</text>
<text x="297.70" y="544.54" font-size="6.75" fill="#1a1a1a" text-anchor="end" stroke="#1a1a1a" stroke-width="0.2">0.803539</text>
<text x="341.80" y="544.54" font-size="6.75" fill="#1a1a1a" text-anchor="end" stroke="#1a1a1a" stroke-width="0.2">0.495675849</text>
<text x="386.00" y="544.54" font-size="6.75" fill="#1a1a1a" text-anchor="end" stroke="#1a1a1a" stroke-width="0.2">0.959899138</text>
<text x="419.20" y="544.54" font-size="6.75" fill="#1a1a1a" text-anchor="end" stroke="#1a1a1a" stroke-width="0.2">0.040101</text>
<text x="452.00" y="544.54" font-size="6.75" fill="#1a1a1a" text-anchor="end" stroke="#1a1a1a" stroke-width="0.2">0.862598</text>
<text x="484.40" y="544.54" font-size="6.75" fill="#1a1a1a" text-anchor="end" stroke="#1a1a1a" stroke-width="0.2">0.137402</text>
<text x="517.60" y="544.54" font-size="6.75" fill="#1a1a1a" text-anchor="end" stroke="#1a1a1a" stroke-width="0.2">0.629577</text>
<text transform="translate(68.00,554.43) scale(0.92,1)" font-size="6.75" fill="#1a1a1a" text-anchor="end" stroke="#1a1a1a" stroke-width="0.2">75%</text>
<text x="101.30" y="554.43" font-size="6.75" fill="#1a1a1a" text-anchor="end" stroke="#1a1a1a" stroke-width="0.2">3012</text>
<text x="134.20" y="554.43" font-size="6.75" fill="#1a1a1a" text-anchor="end" stroke="#1a1a1a" stroke-width="0.2">11805</text>
<text x="167.30" y="554.43" font-size="6.75" fill="#1a1a1a" text-anchor="end" stroke="#1a1a1a" stroke-width="0.2">295</text>
<text x="199.60" y="554.43" font-size="6.75" fill="#1a1a1a" text-anchor="end" stroke="#1a1a1a" stroke-width="0.2">191</text>
<text x="232.50" y="554.43" font-size="6.75" fill="#1a1a1a" text-anchor="end" stroke="#1a1a1a" stroke-width="0.2">486</text>
<text x="265.10" y="554.43" font-size="6.75" fill="#1a1a1a" text-anchor="end" stroke="#1a1a1a" stroke-width="0.2">3235</text>
<text x="297.70" y="554.43" font-size="6.75" fill="#1a1a1a" text-anchor="end" stroke="#1a1a1a" stroke-width="0.2">0.799277</text>
<text x="341.80" y="554.43" font-size="6.75" fill="#1a1a1a" text-anchor="end" stroke="#1a1a1a" stroke-width="0.2">0.482151433</text>
<text x="386.00" y="554.43" font-size="6.75" fill="#1a1a1a" text-anchor="end" stroke="#1a1a1a" stroke-width="0.2">0.960458872</text>
<text x="419.20" y="554.43" font-size="6.75" fill="#1a1a1a" text-anchor="end" stroke="#1a1a1a" stroke-width="0.2">0.039541</text>
<text x="452.00" y="554.43" font-size="6.75" fill="#1a1a1a" text-anchor="end" stroke="#1a1a1a" stroke-width="0.2">0.861063</text>
<text x="484.40" y="554.43" font-size="6.75" fill="#1a1a1a" text-anchor="end" stroke="#1a1a1a" stroke-width="0.2">0.138937</text>
<text x="517.60" y="554.43" font-size="6.75" fill="#1a1a1a" text-anchor="end" stroke="#1a1a1a" stroke-width="0.2">0.618163</text>
<text transform="translate(68.00,564.32) scale(0.92,1)" font-size="6.75" fill="#1a1a1a" text-anchor="end" stroke="#1a1a1a" stroke-width="0.2">80%</text>
<text x="101.30" y="564.32" font-size="6.75" fill="#1a1a1a" text-anchor="end" stroke="#1a1a1a" stroke-width="0.2">2950</text>
<text x="134.20" y="564.32" font-size="6.75" fill="#1a1a1a" text-anchor="end" stroke="#1a1a1a" stroke-width="0.2">11807</text>
<text x="167.30" y="564.32" font-size="6.75" fill="#1a1a1a" text-anchor="end" stroke="#1a1a1a" stroke-width="0.2">293</text>
<text x="199.60" y="564.32" font-size="6.75" fill="#1a1a1a" text-anchor="end" stroke="#1a1a1a" stroke-width="0.2">189</text>
<text x="232.50" y="564.32" font-size="6.75" fill="#1a1a1a" text-anchor="end" stroke="#1a1a1a" stroke-width="0.2">482</text>
<text x="265.10" y="564.32" font-size="6.75" fill="#1a1a1a" text-anchor="end" stroke="#1a1a1a" stroke-width="0.2">3299</text>
<text x="297.70" y="564.32" font-size="6.75" fill="#1a1a1a" text-anchor="end" stroke="#1a1a1a" stroke-width="0.2">0.796041</text>
<text x="341.80" y="564.32" font-size="6.75" fill="#1a1a1a" text-anchor="end" stroke="#1a1a1a" stroke-width="0.2">0.472075532</text>
<text x="386.00" y="564.32" font-size="6.75" fill="#1a1a1a" text-anchor="end" stroke="#1a1a1a" stroke-width="0.2">0.960777931</text>
<text x="419.20" y="564.32" font-size="6.75" fill="#1a1a1a" text-anchor="end" stroke="#1a1a1a" stroke-width="0.2">0.039222</text>
<text x="452.00" y="564.32" font-size="6.75" fill="#1a1a1a" text-anchor="end" stroke="#1a1a1a" stroke-width="0.2">0.859557</text>
<text x="484.40" y="564.32" font-size="6.75" fill="#1a1a1a" text-anchor="end" stroke="#1a1a1a" stroke-width="0.2">0.140443</text>
<text x="517.60" y="564.32" font-size="6.75" fill="#1a1a1a" text-anchor="end" stroke="#1a1a1a" stroke-width="0.2">0.609441</text>
<text transform="translate(68.00,574.22) scale(0.92,1)" font-size="6.75" fill="#1a1a1a" text-anchor="end" stroke="#1a1a1a" stroke-width="0.2">85%</text>
<text x="101.30" y="574.22" font-size="6.75" fill="#1a1a1a" text-anchor="end" stroke="#1a1a1a" stroke-width="0.2">2907</text>
<text x="134.20" y="574.22" font-size="6.75" fill="#1a1a1a" text-anchor="end" stroke="#1a1a1a" stroke-width="0.2">11810</text>
<text x="167.30" y="574.22" font-size="6.75" fill="#1a1a1a" text-anchor="end" stroke="#1a1a1a" stroke-width="0.2">290</text>
<text x="199.60" y="574.22" font-size="6.75" fill="#1a1a1a" text-anchor="end" stroke="#1a1a1a" stroke-width="0.2">187</text>
<text x="232.50" y="574.22" font-size="6.75" fill="#1a1a1a" text-anchor="end" stroke="#1a1a1a" stroke-width="0.2">477</text>
<text x="265.10" y="574.22" font-size="6.75" fill="#1a1a1a" text-anchor="end" stroke="#1a1a1a" stroke-width="0.2">3344</text>
<text x="297.70" y="574.22" font-size="6.75" fill="#1a1a1a" text-anchor="end" stroke="#1a1a1a" stroke-width="0.2">0.793883</text>
<text x="341.80" y="574.22" font-size="6.75" fill="#1a1a1a" text-anchor="end" stroke="#1a1a1a" stroke-width="0.2">0.465045593</text>
<text x="386.00" y="574.22" font-size="6.75" fill="#1a1a1a" text-anchor="end" stroke="#1a1a1a" stroke-width="0.2">0.961178481</text>
<text x="419.20" y="574.22" font-size="6.75" fill="#1a1a1a" text-anchor="end" stroke="#1a1a1a" stroke-width="0.2">0.038822</text>
<text x="452.00" y="574.22" font-size="6.75" fill="#1a1a1a" text-anchor="end" stroke="#1a1a1a" stroke-width="0.2">0.859043</text>
<text x="484.40" y="574.22" font-size="6.75" fill="#1a1a1a" text-anchor="end" stroke="#1a1a1a" stroke-width="0.2">0.140957</text>
<text x="517.60" y="574.22" font-size="6.75" fill="#1a1a1a" text-anchor="end" stroke="#1a1a1a" stroke-width="0.2">0.603425</text>
<text transform="translate(68.00,584.11) scale(0.92,1)" font-size="6.75" fill="#1a1a1a" text-anchor="end" stroke="#1a1a1a" stroke-width="0.2">90%</text>
<text x="101.30" y="584.11" font-size="6.75" fill="#1a1a1a" text-anchor="end" stroke="#1a1a1a" stroke-width="0.2">2865</text>
<text x="134.20" y="584.11" font-size="6.75" fill="#1a1a1a" text-anchor="end" stroke="#1a1a1a" stroke-width="0.2">11816</text>
<text x="167.30" y="584.11" font-size="6.75" fill="#1a1a1a" text-anchor="end" stroke="#1a1a1a" stroke-width="0.2">284</text>
<text x="199.60" y="584.11" font-size="6.75" fill="#1a1a1a" text-anchor="end" stroke="#1a1a1a" stroke-width="0.2">187</text>
<text x="232.50" y="584.11" font-size="6.75" fill="#1a1a1a" text-anchor="end" stroke="#1a1a1a" stroke-width="0.2">471</text>
<text x="265.10" y="584.11" font-size="6.75" fill="#1a1a1a" text-anchor="end" stroke="#1a1a1a" stroke-width="0.2">3386</text>
<text x="297.70" y="584.11" font-size="6.75" fill="#1a1a1a" text-anchor="end" stroke="#1a1a1a" stroke-width="0.2">0.791941</text>
<text x="341.80" y="584.11" font-size="6.75" fill="#1a1a1a" text-anchor="end" stroke="#1a1a1a" stroke-width="0.2">0.458326668</text>
<text x="386.00" y="584.11" font-size="6.75" fill="#1a1a1a" text-anchor="end" stroke="#1a1a1a" stroke-width="0.2">0.961666802</text>
<text x="419.20" y="584.11" font-size="6.75" fill="#1a1a1a" text-anchor="end" stroke="#1a1a1a" stroke-width="0.2">0.038333</text>
<text x="452.00" y="584.11" font-size="6.75" fill="#1a1a1a" text-anchor="end" stroke="#1a1a1a" stroke-width="0.2">0.858813</text>
<text x="484.40" y="584.11" font-size="6.75" fill="#1a1a1a" text-anchor="end" stroke="#1a1a1a" stroke-width="0.2">0.141187</text>
<text x="517.60" y="584.11" font-size="6.75" fill="#1a1a1a" text-anchor="end" stroke="#1a1a1a" stroke-width="0.2">0.597684</text>
<text transform="translate(68.00,594.00) scale(0.92,1)" font-size="6.75" fill="#1a1a1a" text-anchor="end" stroke="#1a1a1a" stroke-width="0.2">95%</text>
<text x="101.30" y="594.00" font-size="6.75" fill="#1a1a1a" text-anchor="end" stroke="#1a1a1a" stroke-width="0.2">2608</text>
<text x="134.20" y="594.00" font-size="6.75" fill="#1a1a1a" text-anchor="end" stroke="#1a1a1a" stroke-width="0.2">11832</text>
<text x="167.30" y="594.00" font-size="6.75" fill="#1a1a1a" text-anchor="end" stroke="#1a1a1a" stroke-width="0.2">268</text>
<text x="199.60" y="594.00" font-size="6.75" fill="#1a1a1a" text-anchor="end" stroke="#1a1a1a" stroke-width="0.2">185</text>
<text x="232.50" y="594.00" font-size="6.75" fill="#1a1a1a" text-anchor="end" stroke="#1a1a1a" stroke-width="0.2">453</text>
<text x="265.10" y="594.00" font-size="6.75" fill="#1a1a1a" text-anchor="end" stroke="#1a1a1a" stroke-width="0.2">3645</text>
<text x="297.70" y="594.00" font-size="6.75" fill="#1a1a1a" text-anchor="end" stroke="#1a1a1a" stroke-width="0.2">0.778941</text>
<text x="341.80" y="594.00" font-size="6.75" fill="#1a1a1a" text-anchor="end" stroke="#1a1a1a" stroke-width="0.2">0.417079802</text>
<text x="386.00" y="594.00" font-size="6.75" fill="#1a1a1a" text-anchor="end" stroke="#1a1a1a" stroke-width="0.2">0.963125763</text>
<text x="419.20" y="594.00" font-size="6.75" fill="#1a1a1a" text-anchor="end" stroke="#1a1a1a" stroke-width="0.2">0.036874</text>
<text x="452.00" y="594.00" font-size="6.75" fill="#1a1a1a" text-anchor="end" stroke="#1a1a1a" stroke-width="0.2">0.852009</text>
<text x="484.40" y="594.00" font-size="6.75" fill="#1a1a1a" text-anchor="end" stroke="#1a1a1a" stroke-width="0.2">0.147991</text>
<text x="517.60" y="594.00" font-size="6.75" fill="#1a1a1a" text-anchor="end" stroke="#1a1a1a" stroke-width="0.2">0.560017</text>
<text transform="translate(68.00,603.90) scale(0.92,1)" font-size="6.75" fill="#1a1a1a" text-anchor="end" stroke="#1a1a1a" stroke-width="0.2">99%</text>
<text x="101.30" y="603.90" font-size="6.75" fill="#1a1a1a" text-anchor="end" stroke="#1a1a1a" stroke-width="0.2">2135</text>
<text x="134.20" y="603.90" font-size="6.75" fill="#1a1a1a" text-anchor="end" stroke="#1a1a1a" stroke-width="0.2">11842</text>
<text x="167.30" y="603.90" font-size="6.75" fill="#1a1a1a" text-anchor="end" stroke="#1a1a1a" stroke-width="0.2">258</text>
<text x="199.60" y="603.90" font-size="6.75" fill="#1a1a1a" text-anchor="end" stroke="#1a1a1a" stroke-width="0.2">180</text>
<text x="232.50" y="603.90" font-size="6.75" fill="#1a1a1a" text-anchor="end" stroke="#1a1a1a" stroke-width="0.2">438</text>
<text x="265.10" y="603.90" font-size="6.75" fill="#1a1a1a" text-anchor="end" stroke="#1a1a1a" stroke-width="0.2">4123</text>
<text x="297.70" y="603.90" font-size="6.75" fill="#1a1a1a" text-anchor="end" stroke="#1a1a1a" stroke-width="0.2">0.753965</text>
<text x="341.80" y="603.90" font-size="6.75" fill="#1a1a1a" text-anchor="end" stroke="#1a1a1a" stroke-width="0.2">0.341163311</text>
<text x="386.00" y="603.90" font-size="6.75" fill="#1a1a1a" text-anchor="end" stroke="#1a1a1a" stroke-width="0.2">0.964332248</text>
<text x="419.20" y="603.90" font-size="6.75" fill="#1a1a1a" text-anchor="end" stroke="#1a1a1a" stroke-width="0.2">0.035668</text>
<text x="452.00" y="603.90" font-size="6.75" fill="#1a1a1a" text-anchor="end" stroke="#1a1a1a" stroke-width="0.2">0.829771</text>
<text x="484.40" y="603.90" font-size="6.75" fill="#1a1a1a" text-anchor="end" stroke="#1a1a1a" stroke-width="0.2">0.170229</text>
<text x="517.60" y="603.90" font-size="6.75" fill="#1a1a1a" text-anchor="end" stroke="#1a1a1a" stroke-width="0.2">0.483524</text>
<rect x="0" y="386.8" width="520" height="1" fill="#6d6d6d"/>
<rect x="0" y="386.8" width="1" height="221" fill="#6d6d6d"/>
<rect x="518.6" y="386.8" width="1" height="221" fill="#6d6d6d"/>
<rect x="0" y="605.7" width="520" height="1.3" fill="#6d6d6d"/>
<rect x="0.9" y="427.65" width="518.2" height="9.8" fill="none" stroke="#1d4e8b" stroke-width="1.8"/>
</svg>
</body></html>
